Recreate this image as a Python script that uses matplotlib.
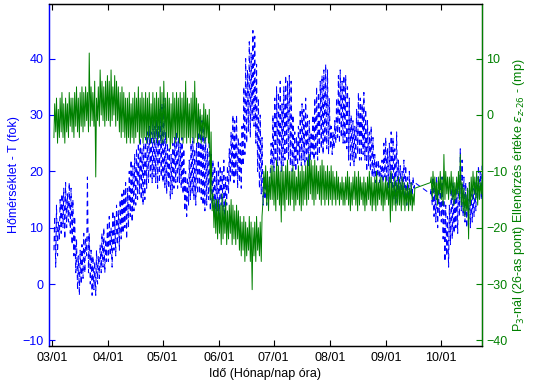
import numpy as np
import pandas as pd
import matplotlib
matplotlib.use('Agg')
import matplotlib.pyplot as plt
import matplotlib.dates as mdates

plt.rcParams['font.family'] = ['Liberation Sans', 'DejaVu Sans']
plt.rcParams['font.size'] = 9

# daily readings, two measuring periods (gap in September)
days_1 = pd.date_range('2007-03-02', '2007-09-16', freq='D')
days_2 = pd.date_range('2007-09-25', '2007-10-23', freq='D')

# temperature T (fok): daily minimum / maximum
t_lo_1 = [6, 3, 5, 8, 9, 10, 8, 10, 11, 9,
          7, 5, 2, -1, -2, 0, 1, 2, 5, 2,
          0, -2, -1, -2, 0, 1, 2, 3, 2, 4,
          4, 5, 3, 6, 5, 7, 6, 8, 9, 10,
          8, 10, 12, 11, 13, 14, 15, 16, 15, 14,
          15, 17, 18, 19, 18, 19, 18, 17, 18, 19,
          18, 17, 16, 17, 15, 16, 17, 18, 17, 18,
          17, 16, 13, 12, 14, 15, 16, 15, 14, 16,
          16, 15, 14, 13, 14, 15, 13, 14, 13, 12,
          13, 12, 14, 13, 12, 14, 16, 18, 19, 18,
          19, 17, 18, 17, 21, 23, 25, 27, 26, 29,
          28, 25, 20, 17, 16, 14, 15, 14, 15, 20,
          21, 20, 22, 21, 22, 20, 21, 22, 23, 22,
          21, 20, 21, 20, 21, 22, 21, 22, 21, 22,
          21, 22, 23, 22, 23, 22, 23, 24, 23, 25,
          24, 23, 24, 23, 24, 25, 26, 25, 26, 25,
          25, 24, 22, 21, 22, 21, 22, 23, 22, 22,
          23, 22, 20, 21, 20, 19, 19, 18, 19, 18,
          19, 18, 19, 18, 17, 18, 16, 15, 14, 15,
          16, 15, 16, 15, 14, 15, 14, 15, 17]
t_hi_1 = [12, 14, 11, 15, 16, 17, 18, 16, 18, 17,
          15, 12, 8, 5, 6, 7, 9, 8, 19, 9,
          6, 5, 4, 6, 5, 7, 9, 10, 8, 11,
          12, 10, 13, 12, 14, 13, 15, 16, 17, 18,
          17, 20, 22, 21, 23, 24, 25, 26, 24, 25,
          26, 27, 28, 27, 29, 28, 30, 28, 31, 32,
          33, 27, 25, 24, 23, 25, 26, 27, 26, 25,
          26, 24, 20, 19, 22, 25, 26, 24, 25, 27,
          30, 29, 28, 26, 24, 27, 23, 22, 21, 20,
          22, 21, 20, 22, 19, 21, 24, 27, 30, 29,
          30, 26, 25, 28, 35, 40, 38, 43, 41, 45,
          44, 39, 33, 30, 26, 19, 18, 19, 18, 25,
          30, 33, 35, 34, 36, 32, 35, 37, 36, 37,
          36, 30, 27, 26, 28, 31, 32, 31, 33, 30,
          29, 27, 30, 33, 35, 34, 36, 37, 38, 39,
          38, 33, 28, 27, 29, 33, 37, 38, 36, 37,
          37, 35, 33, 30, 29, 28, 31, 34, 33, 32,
          34, 31, 29, 27, 28, 26, 23, 22, 22, 21,
          22, 25, 26, 24, 25, 27, 26, 24, 27, 22,
          21, 20, 22, 21, 19, 20, 18, 19, 18]
t_lo_2 = [16, 14, 12, 11, 10, 12, 11, 8, 4, 5,
          3, 7, 8, 9, 10, 9, 12, 13, 12, 11,
          10, 11, 10, 11, 12, 13, 15, 16, 15]
t_hi_2 = [17, 19, 18, 19, 17, 18, 19, 15, 14, 12,
          14, 17, 18, 17, 18, 19, 24, 22, 19, 18,
          17, 18, 16, 17, 18, 19, 21, 20, 21]

# check value eps_z-26 (mp): daily minimum / maximum
e_lo_1 = [-4, -3, -5, -4, -3, -4, -5, -3, -4, -2,
          -3, -4, -2, -3, -4, -2, -3, -2, -1, -3,
          -2, -1, -2, -11, -1, -2, 0, -1, -2, -1,
          -1, -2, -1, 0, -2, -1, -3, -4, -3, -4,
          -5, -4, -5, -4, -5, -4, -3, -5, -4, -5,
          -4, -5, -4, -5, -4, -5, -4, -5, -4, -5,
          -5, -4, -5, -4, -6, -5, -4, -5, -4, -5,
          -4, -5, -4, -5, -4, -5, -4, -5, -4, -5,
          -4, -5, -4, -5, -4, -5, -15, -17, -20, -21,
          -22, -21, -23, -22, -21, -23, -22, -21, -23, -22,
          -23, -22, -24, -25, -24, -26, -25, -24, -26, -31,
          -25, -26, -24, -25, -26, -15, -14, -16, -17, -15,
          -15, -16, -17, -15, -16, -19, -16, -17, -15, -16,
          -16, -15, -17, -16, -15, -16, -17, -16, -15, -16,
          -15, -14, -15, -16, -15, -14, -15, -16, -15, -16,
          -15, -16, -15, -16, -15, -16, -15, -16, -15, -16,
          -16, -15, -16, -17, -16, -15, -16, -17, -16, -15,
          -16, -17, -16, -15, -16, -17, -16, -17, -16, -15,
          -16, -17, -16, -15, -16, -19, -17, -16, -17, -16,
          -16, -17, -16, -17, -16, -17, -16, -17, -16]
e_hi_1 = [2, 3, 1, 3, 4, 2, 3, 2, 4, 3,
          3, 4, 5, 3, 4, 5, 4, 5, 4, 11,
          5, 4, 6, 3, 5, 8, 6, 5, 6, 7,
          6, 8, 5, 7, 6, 5, 4, 5, 4, 3,
          3, 4, 2, 3, 4, 3, 5, 3, 4, 3,
          4, 3, 4, 2, 4, 3, 4, 3, 5, 4,
          6, 3, 4, 3, 2, 4, 3, 4, 3, 4,
          3, 4, 6, 3, 2, 3, 4, 6, 3, 2,
          1, 0, 2, 1, 0, 1, -3, -14, -15, -15,
          -15, -16, -14, -16, -15, -17, -16, -15, -16, -17,
          -16, -17, -18, -19, -18, -19, -20, -18, -19, -20,
          -19, -18, -20, -19, -18, -10, -9, -10, -11, -9,
          -9, -10, -8, -9, -10, -9, -10, -9, -8, -10,
          -10, -9, -10, -11, -9, -10, -9, -10, -9, -8,
          -7, -8, -9, -8, -9, -10, -9, -8, -9, -10,
          -9, -10, -9, -10, -11, -10, -11, -12, -11, -12,
          -11, -10, -11, -12, -11, -10, -11, -10, -11, -12,
          -11, -12, -11, -10, -11, -12, -11, -10, -12, -11,
          -11, -12, -11, -12, -11, -10, -12, -11, -12, -11,
          -12, -11, -12, -13, -12, -13, -12, -14, -13]
e_lo_2 = [-12, -15, -14, -15, -16, -14, -15, -16, -15, -14,
          -15, -14, -15, -16, -15, -14, -15, -16, -17, -18,
          -17, -22, -16, -15, -14, -15, -16, -15, -14]
e_hi_2 = [-11, -10, -11, -12, -11, -10, -11, -7, -10, -11,
          -11, -10, -11, -12, -11, -10, -7, -12, -13, -14,
          -13, -12, -11, -10, -11, -10, -11, -12, -11]


def zigzag(days, lo, hi):
    # minimum in the early morning, maximum in the afternoon
    t = np.empty(2 * len(days), dtype='datetime64[ns]')
    v = np.empty(2 * len(days))
    t[0::2] = (days + pd.Timedelta(hours=5)).values
    t[1::2] = (days + pd.Timedelta(hours=15)).values
    v[0::2] = lo
    v[1::2] = hi
    return t, v


t1, T1 = zigzag(days_1, t_lo_1, t_hi_1)
t2, T2 = zigzag(days_2, t_lo_2, t_hi_2)
_, E1 = zigzag(days_1, e_lo_1, e_hi_1)
_, E2 = zigzag(days_2, e_lo_2, e_hi_2)
t_all = np.concatenate([t1, t2])
T_all = np.concatenate([T1, T2])
E_all = np.concatenate([E1, E2])

blue = (0, 0, 1)
green = (0, 0.5, 0)

fig = plt.figure(figsize=(5.36, 3.92), dpi=100)
ax = fig.add_axes([0.0914, 0.1173, 0.8076, 0.8725])
ax2 = ax.twinx()

ax.plot(t_all, T_all, color=blue, lw=0.75, linestyle=(0, (5, 3.5)))
ax2.plot(t_all, E_all, color=green, lw=0.7)

ax.set_xlim(pd.Timestamp('2007-02-27 12:00'), pd.Timestamp('2007-10-23 12:00'))
ax.set_ylim(-11, 49.7)
ax2.set_ylim(-41, 19.7)
ax.set_yticks([-10, 0, 10, 20, 30, 40])
ax2.set_yticks([-40, -30, -20, -10, 0, 10])
ax.xaxis.set_major_locator(mdates.MonthLocator())
ax.xaxis.set_major_formatter(mdates.DateFormatter('%m/%d'))

ax.tick_params(axis='x', direction='in', top=True, length=4, pad=4)
ax.tick_params(axis='y', direction='in', length=4, pad=4, colors=blue)
ax2.tick_params(axis='y', direction='in', length=4, pad=3, colors=green)
ax.spines['left'].set_color(blue)
ax2.spines['left'].set_color(blue)
ax2.spines['right'].set_color(green)
for a in (ax, ax2):
    for s in a.spines.values():
        s.set_linewidth(0.9)

ax.set_xlabel('Idő (Hónap/nap óra)', labelpad=3)
ax.set_ylabel('Hőmérséklet - T (fok)', color=blue)
ax.yaxis.set_label_coords(-0.066, 0.5)
ax2.set_ylabel(r'P$_3$-nál (26-as pont) Ellenőrzés értéke $\varepsilon_{z\text{-}26}$ - (mp)',
               color=green)
ax2.yaxis.set_label_coords(1.067, 0.44)

fig.savefig('out.png', dpi=100)
